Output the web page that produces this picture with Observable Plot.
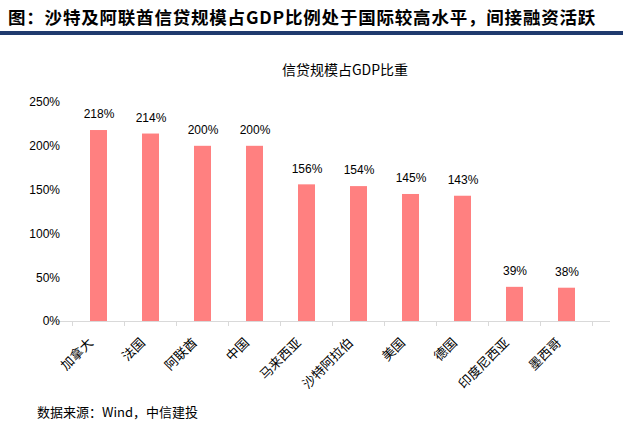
<!DOCTYPE html>
<html>
<head>
<meta charset="utf-8">
<script src="https://cdn.jsdelivr.net/npm/d3@7"></script>
<script src="https://cdn.jsdelivr.net/npm/@observablehq/plot@0.6"></script>
<style>
  body { margin: 0; background: #fff; }
  #wrap { position: relative; width: 627px; height: 428px; overflow: hidden; background: #fff; }
  #title { position: absolute; left: 8px; top: 4px; font-family: "Noto Sans CJK SC", sans-serif; font-weight: bold; font-size: 17.5px; color: #000; white-space: nowrap; letter-spacing: 0.8px; }
  #rule { position: absolute; left: 0; top: 31px; width: 623px; height: 4px; background: #1F3A6E; }
  #source { position: absolute; left: 37px; top: 402px; font-family: "Noto Sans CJK SC", sans-serif; font-size: 13px; color: #000; white-space: nowrap; }
  #chart { position: absolute; left: 0; top: 0; }
</style>
</head>
<body>
<div id="wrap">
  <div id="chart"></div>
  <div id="title">图：沙特及阿联酋信贷规模占GDP比例处于国际较高水平，间接融资活跃</div>
  <div id="rule"></div>
  <div id="source">数据来源：Wind，中信建投</div>
</div>
<script>
const countries = ["加拿大", "法国", "阿联酋", "中国", "马来西亚", "沙特阿拉伯", "美国", "德国", "印度尼西亚", "墨西哥"];
const values = [218, 214, 200, 200, 156, 154, 145, 143, 39, 38];
const yTicks = [0, 50, 100, 150, 200, 250];
const chartTitle = "信贷规模占GDP比重";

const data = countries.map((c, i) => ({country: c, value: values[i]}));

const plot = Plot.plot({
  width: 627,
  height: 428,
  marginTop: 102,
  marginBottom: 107,
  marginLeft: 55,
  marginRight: 17,
  style: {fontFamily: "Liberation Sans, Arial, sans-serif", fontSize: "12px", background: "transparent"},
  x: {domain: countries, padding: 0.667, align: 0.5, axis: null},
  y: {domain: [0, 250], axis: null},
  marks: [
    Plot.barY(data, {x: "country", y: "value", fill: "#FF8080"}),
    Plot.ruleY([0], {stroke: "#d9d9d9", strokeWidth: 1}),
    Plot.text(yTicks, {
      x: () => countries[0], y: d => d, text: d => d + "%",
      dx: -39, textAnchor: "end", fill: "#000", fontSize: 12
    }),
    Plot.text(data, {
      x: "country", y: "value", text: d => d.value + "%",
      dy: -16, fill: "#000", fontSize: 12
    }),
    Plot.text(data, {
      x: "country", y: 0, text: "country",
      rotate: -45, textAnchor: "end", dx: -8, dy: 19,
      fontFamily: "Noto Sans CJK SC, sans-serif", fontSize: 13, fill: "#000"
    }),
    Plot.text([chartTitle], {
      frameAnchor: "top", dy: -37, text: d => d,
      fontFamily: "Noto Sans CJK SC, sans-serif", fontSize: 14, fill: "#000", dx: 12
    })
  ]
});

const svg = d3.select(plot);
const xs = plot.scale("x");
const step = xs.step;
const bounds = [];
countries.forEach((c, i) => { if (i === 0) bounds.push(xs.apply(c) - (step - xs.bandwidth) / 2); bounds.push(xs.apply(c) + xs.bandwidth + (step - xs.bandwidth) / 2); });
const y0 = plot.scale("y").apply(0);
const g = svg.append("g");
bounds.forEach(b => {
  g.append("line").attr("x1", b).attr("x2", b).attr("y1", y0).attr("y2", y0 + 5).attr("stroke", "#d9d9d9");
});
document.getElementById("chart").appendChild(plot);
</script>
</body>
</html>
